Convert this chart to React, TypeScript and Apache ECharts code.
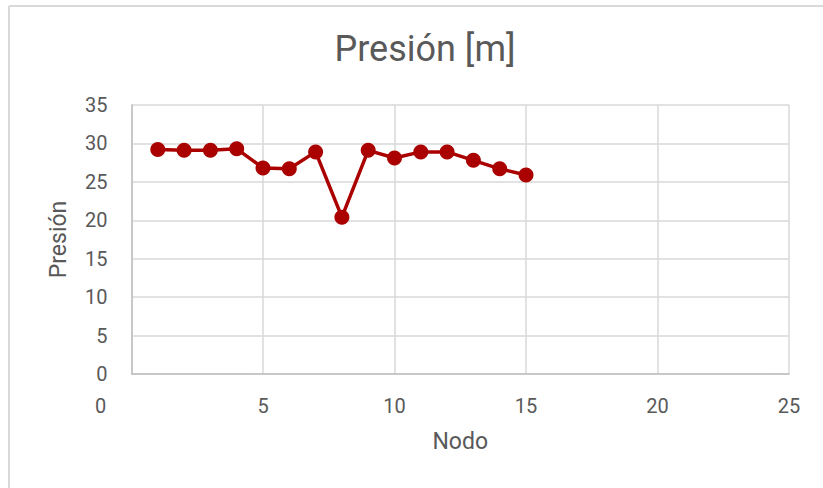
import React, { useEffect, useRef } from "react";
import * as echarts from "echarts";

const nodes = [1, 2, 3, 4, 5, 6, 7, 8, 9, 10, 11, 12, 13, 14, 15];
const pressure = [29.2, 29.1, 29.1, 29.3, 26.8, 26.7, 28.9, 20.4, 29.1, 28.1, 28.9, 28.9, 27.8, 26.7, 25.9];
const chartTitle = "Presión [m]";
const xName = "Nodo";
const yName = "Presión";

const FONT = "Roboto, 'Noto Sans', sans-serif";
const TXT = "#595959";

export default function App() {
  const ref = useRef<HTMLDivElement>(null);
  useEffect(() => {
    document.body.style.margin = "0";
    const chart = echarts.init(ref.current!, undefined, { renderer: "svg" });
    chart.setOption({
      animation: false,
      backgroundColor: "#ffffff",
      textStyle: { fontFamily: FONT },
      title: {
        text: chartTitle,
        left: 420,
        textAlign: "center",
        top: 26,
        textStyle: { fontFamily: FONT, fontSize: 36, fontWeight: "normal", color: TXT },
      },
      grid: { left: 131.5, right: 34, top: 105, bottom: 114 },
      xAxis: {
        type: "value",
        min: 0,
        max: 25,
        interval: 5,
        name: xName,
        nameLocation: "middle",
        nameGap: 56,
        nameTextStyle: { fontFamily: FONT, fontSize: 23, color: TXT },
        axisLine: { show: true, lineStyle: { color: "#bfbfbf", width: 1.5 } },
        axisTick: { show: false },
        axisLabel: {
          margin: 22,
          fontFamily: FONT,
          fontSize: 20,
          color: TXT,
          formatter: (v: number) => (v === 0 ? "{z|0}" : String(v)),
          rich: { z: { fontFamily: FONT, fontSize: 20, color: TXT, padding: [0, 62, 0, 0] } },
        },
        splitLine: { show: true, lineStyle: { color: "#d9d9d9", width: 1.5 } },
      },
      yAxis: {
        type: "value",
        min: 0,
        max: 35,
        interval: 5,
        name: yName,
        nameLocation: "middle",
        nameGap: 62,
        nameTextStyle: { fontFamily: FONT, fontSize: 23, color: TXT },
        axisLine: { show: true, lineStyle: { color: "#bfbfbf", width: 1.5 } },
        axisTick: { show: false },
        axisLabel: { margin: 24, fontFamily: FONT, fontSize: 20, color: TXT },
        splitLine: { show: true, lineStyle: { color: "#d9d9d9", width: 1.5 } },
      },
      series: [
        {
          type: "line",
          data: nodes.map((n, i) => [n, pressure[i]]),
          symbol: "circle",
          symbolSize: 15,
          itemStyle: { color: "#AA0000" },
          lineStyle: { color: "#AA0000", width: 3.5 },
        },
      ],
      graphic: [
        { type: "line", shape: { x1: 9, y1: 6, x2: 823, y2: 6 }, style: { stroke: "#d9d9d9", lineWidth: 2 } },
        { type: "line", shape: { x1: 9, y1: 6, x2: 9, y2: 488 }, style: { stroke: "#d9d9d9", lineWidth: 2 } },
      ],
    });
    return () => chart.dispose();
  }, []);
  return <div ref={ref} style={{ width: 823, height: 488 }} />;
}
